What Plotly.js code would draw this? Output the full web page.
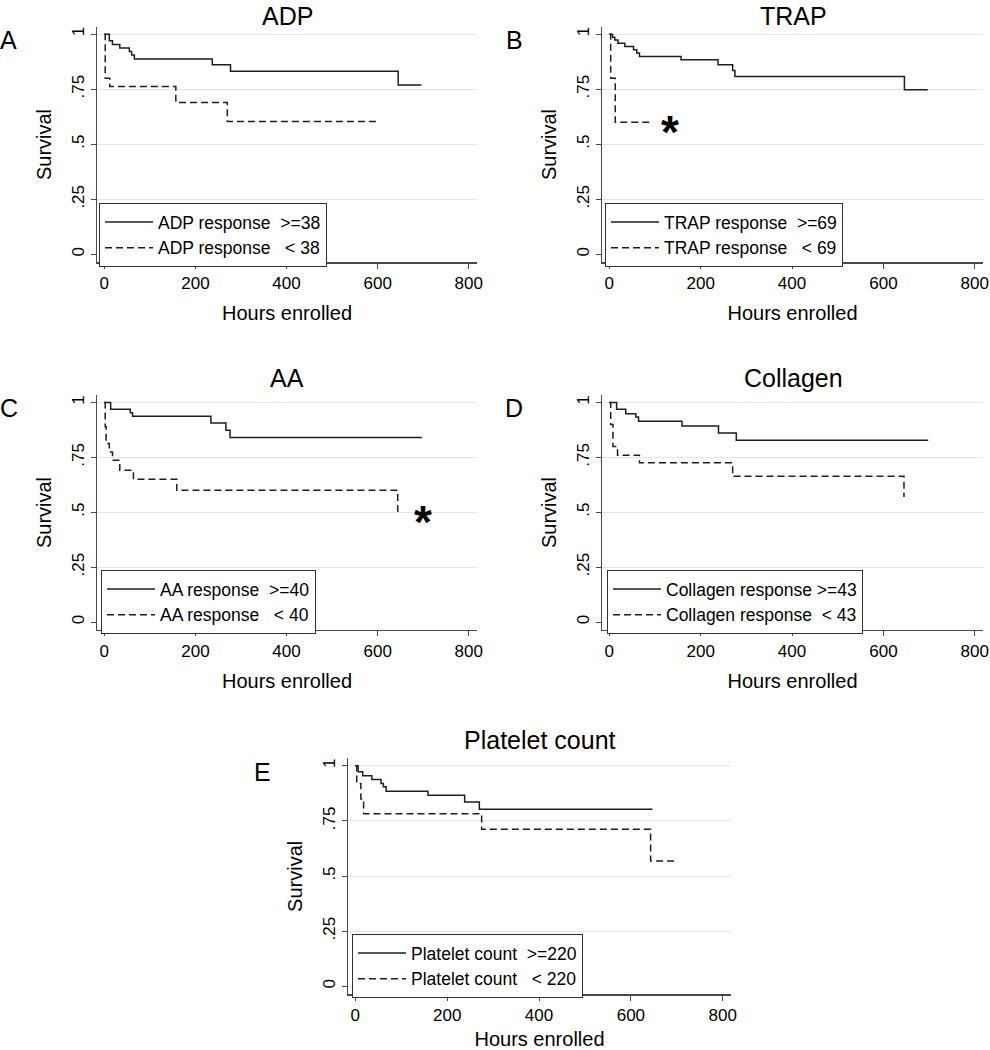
<!DOCTYPE html>
<html>
<head>
<meta charset="utf-8">
<script src="https://cdn.plot.ly/plotly-3.0.1.min.js"></script>
<style>html,body{margin:0;padding:0;background:#fff;}#chart{width:990px;height:1050px;}</style>
</head>
<body>
<div id="chart"></div>
<script>
// ---- Data (hours enrolled, Kaplan-Meier survival) ----
const panelTitles = ["ADP", "TRAP", "AA", "Collagen", "Platelet count"];
const panelLetters = ["A", "B", "C", "D", "E"];

const adpHiHours = [0, 11, 18, 34, 55, 60, 66, 237, 277, 645, 696];
const adpHiSurv  = [1, 0.970, 0.953, 0.937, 0.921, 0.905, 0.887, 0.861, 0.832, 0.769, 0.769];
const adpLoHours = [0, 2, 12, 157, 270, 598];
const adpLoSurv  = [1, 0.800, 0.762, 0.690, 0.603, 0.603];

const trapHiHours = [0, 7, 12, 19, 34, 53, 60, 66, 157, 238, 270, 275, 646, 697];
const trapHiSurv  = [1, 0.986, 0.974, 0.959, 0.944, 0.929, 0.914, 0.899, 0.884, 0.861, 0.835, 0.808, 0.748, 0.748];
const trapLoHours = [0, 3, 13, 93];
const trapLoSurv  = [1, 0.800, 0.600, 0.600];

const aaHiHours = [0, 14, 57, 62, 234, 267, 276, 697];
const aaHiSurv  = [1, 0.969, 0.953, 0.937, 0.907, 0.874, 0.840, 0.840];
const aaLoHours = [0, 2, 4, 11, 18, 34, 64, 159, 644];
const aaLoSurv  = [1, 0.889, 0.813, 0.775, 0.737, 0.691, 0.650, 0.600, 0.500];

const colHiHours = [0, 16, 36, 58, 64, 159, 239, 278, 698];
const colHiSurv  = [1, 0.969, 0.949, 0.934, 0.915, 0.893, 0.861, 0.828, 0.828];
const colLoHours = [0, 3, 8, 18, 66, 270, 645];
const colLoSurv  = [1, 0.900, 0.800, 0.760, 0.725, 0.664, 0.570];

const pltHiHours = [0, 6, 16, 36, 56, 61, 67, 158, 238, 270, 647];
const pltHiSurv  = [1, 0.973, 0.955, 0.938, 0.920, 0.905, 0.885, 0.867, 0.836, 0.803, 0.803];
const pltLoHours = [0, 3, 12, 18, 275, 643, 697];
const pltLoSurv  = [1, 0.920, 0.850, 0.783, 0.712, 0.568, 0.568];

const hiNames = ["ADP response\u00a0\u00a0&gt;=38", "TRAP response\u00a0\u00a0&gt;=69", "AA response\u00a0\u00a0&gt;=40", "Collagen response &gt;=43", "Platelet count\u00a0\u00a0&gt;=220"];
const loNames = ["ADP response\u00a0\u00a0\u00a0&lt; 38", "TRAP response\u00a0\u00a0\u00a0&lt; 69", "AA response\u00a0\u00a0\u00a0&lt; 40", "Collagen response\u00a0\u00a0&lt; 43", "Platelet count\u00a0\u00a0\u00a0&lt; 220"];

const yTickVals = [0, 0.25, 0.5, 0.75, 1];
const yTickText = ["0", ".25", ".5", ".75", "1"];
const xTickVals = [0, 200, 400, 600, 800];
const xTitle = "Hours enrolled";
const yTitle = "Survival";

// significance markers: [panel index, hours, survival]
const starPanels = [1, 2];
const starHours  = [133, 699];
const starSurv   = [0.598, 0.495];

// ---- Build ----
const hiSeries = [[adpHiHours, adpHiSurv], [trapHiHours, trapHiSurv], [aaHiHours, aaHiSurv], [colHiHours, colHiSurv], [pltHiHours, pltHiSurv]];
const loSeries = [[adpLoHours, adpLoSurv], [trapLoHours, trapLoSurv], [aaLoHours, aaLoSurv], [colLoHours, colLoSurv], [pltLoHours, pltLoSurv]];

const W = 990, H = 1050;
// plot boxes in pixels [left, right, top, bottom]
const boxes = [
  [97, 477, 26.7, 262.3],
  [602, 983, 26.7, 262.3],
  [97, 477, 395, 630],
  [602, 983, 395, 630],
  [348, 731, 758.3, 994.3]
];
const legendPos = [[99, 203], [605, 203], [101, 570], [607, 570], [352, 934]];
const titlePos = [[287, 0, "top"], [793, 0, "top"], [287, 378, "middle"], [793, 378, "middle"], [540, 740, "middle"]];
const letterPos = [[8, 40], [514, 40], [9, 408], [514, 408], [262, 772]];

const lineColor = "#1e1e1e";
const axisColor = "#4a4a4a";
const font = "Liberation Sans, Arial, Helvetica, sans-serif";

const traces = [];
const layout = {
  width: W, height: H,
  margin: {l: 0, r: 0, t: 0, b: 0},
  paper_bgcolor: "#fff", plot_bgcolor: "#fff",
  font: {family: font, color: "#000", size: 17},
  showlegend: true,
  hovermode: false,
  annotations: []
};

for (let i = 0; i < 5; i++) {
  const n = i + 1;
  const sfx = n === 1 ? "" : String(n);
  const legKey = n === 1 ? "legend" : "legend" + n;
  traces.push({
    type: "scatter", mode: "lines", x: hiSeries[i][0], y: hiSeries[i][1],
    line: {shape: "hv", color: lineColor, width: 1.5, dash: "solid"},
    name: hiNames[i], xaxis: "x" + sfx, yaxis: "y" + sfx, legend: legKey
  });
  traces.push({
    type: "scatter", mode: "lines", x: loSeries[i][0], y: loSeries[i][1],
    line: {shape: "hv", color: lineColor, width: 1.5, dash: "7px,4px"},
    name: loNames[i], xaxis: "x" + sfx, yaxis: "y" + sfx, legend: legKey
  });
  const b = boxes[i];
  layout["xaxis" + sfx] = {
    domain: [b[0] / W, b[1] / W], anchor: "y" + sfx,
    range: [-16, 818], tickmode: "array", tickvals: xTickVals,
    ticks: "outside", ticklen: 5, tickwidth: 1, tickcolor: axisColor,
    showline: true, linecolor: axisColor, linewidth: 1.2,
    showgrid: false, zeroline: false,
    tickfont: {size: 17, family: font, color: "#000"},
    title: {text: xTitle, font: {size: 20, family: font, color: "#000"}, standoff: 14},
    fixedrange: true
  };
  layout["yaxis" + sfx] = {
    domain: [1 - b[3] / H, 1 - b[2] / H], anchor: "x" + sfx,
    range: [-0.036, 1.034], tickmode: "array", tickvals: yTickVals, ticktext: yTickText,
    tickangle: -90,
    ticks: "outside", ticklen: 5, tickwidth: 1, tickcolor: axisColor,
    showline: true, linecolor: axisColor, linewidth: 1.2,
    showgrid: true, gridcolor: "#e6e6e6", gridwidth: 1,
    zeroline: true, zerolinecolor: "#ffffff", zerolinewidth: 1,
    tickfont: {size: 17, family: font, color: "#000"},
    title: {text: yTitle, font: {size: 20, family: font, color: "#000"}, standoff: 12},
    fixedrange: true
  };
  layout[legKey] = {
    x: legendPos[i][0] / W, y: 1 - legendPos[i][1] / H,
    xanchor: "left", yanchor: "top",
    bgcolor: "#fff", bordercolor: "#333", borderwidth: 1,
    font: {size: 17.5, family: font, color: "#000"},
    itemwidth: 48, tracegroupgap: 0, traceorder: "normal"
  };
  layout.annotations.push({
    xref: "paper", yref: "paper", x: titlePos[i][0] / W, y: 1 - titlePos[i][1] / H,
    xanchor: "center", yanchor: titlePos[i][2], showarrow: false,
    text: panelTitles[i], font: {size: 25, family: font, color: "#000"}
  });
  layout.annotations.push({
    xref: "paper", yref: "paper", x: letterPos[i][0] / W, y: 1 - letterPos[i][1] / H,
    xanchor: "center", yanchor: "middle", showarrow: false,
    text: panelLetters[i], font: {size: 25, family: font, color: "#000"}
  });
}

for (let k = 0; k < starPanels.length; k++) {
  const n = starPanels[k] + 1;
  const sfx = n === 1 ? "" : String(n);
  layout.annotations.push({
    xref: "x" + sfx, yref: "y" + sfx, x: starHours[k], y: starSurv[k],
    xanchor: "center", yanchor: "middle", showarrow: false, yshift: -9,
    text: "<b>*</b>", font: {size: 46, family: font, color: "#000"}
  });
}

Plotly.newPlot("chart", traces, layout, {staticPlot: true, displayModeBar: false});
</script>
</body>
</html>
